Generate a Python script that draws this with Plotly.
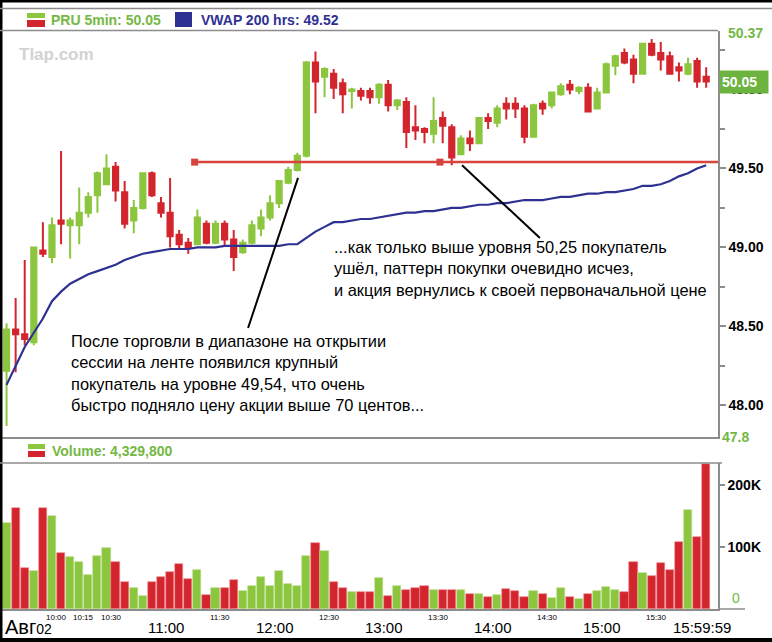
import plotly.graph_objects as go
import pandas as pd

# ---------------- data ----------------
session_day = "2010-08-02"
session_open = "09:30"
bar_minutes = 5
ticker = "PRU"
total_volume = 4329800

opens = [48.22, 48.48, 48.45, 48.40, 48.98, 48.94, 49.17, 49.14, 49.14, 49.22,
         49.33, 49.40, 49.51, 49.35, 49.17, 49.25, 49.47, 49.28, 49.22, 49.08,
         49.03, 49.02, 49.15, 49.03, 49.15, 49.05, 48.97, 49.03, 49.12, 49.19,
         49.28, 49.41, 49.49, 49.58, 50.17, 50.08, 50.10, 50.04, 49.99, 49.99,
         49.99, 49.95, 50.03, 49.90, 49.92, 49.76, 49.75, 49.72, 49.82, 49.76,
         49.59, 49.69, 49.66, 49.82, 49.79, 49.91, 49.91, 49.88, 49.70, 49.91,
         49.90, 49.97, 50.03, 49.99, 50.01, 49.88, 49.98, 50.15, 50.23, 50.19,
         50.10, 50.29, 50.23, 50.21, 50.14, 50.10, 50.18, 50.08]
highs = [48.52, 48.68, 48.92, 49.00, 49.16, 49.19, 49.61, 49.19, 49.38, 49.35,
         49.48, 49.59, 49.54, 49.42, 49.30, 49.47, 49.48, 49.32, 49.44, 49.11,
         49.06, 49.24, 49.17, 49.17, 49.17, 49.11, 49.05, 49.17, 49.24, 49.33,
         49.42, 49.51, 49.60, 50.18, 50.24, 50.14, 50.13, 50.07, 50.01, 50.01,
         50.01, 50.04, 50.06, 49.94, 49.95, 49.90, 49.76, 49.95, 49.86, 49.78,
         49.71, 49.74, 49.82, 49.85, 49.90, 49.95, 49.95, 49.90, 49.91, 49.93,
         49.98, 50.04, 50.06, 50.02, 50.04, 50.01, 50.17, 50.22, 50.26, 50.22,
         50.29, 50.32, 50.30, 50.24, 50.17, 50.20, 50.20, 50.14]
lows = [47.87, 48.21, 48.38, 48.38, 48.94, 48.90, 49.02, 48.93, 49.02, 49.19,
        49.22, 49.40, 49.29, 49.12, 49.09, 49.24, 49.32, 49.19, 49.00, 48.99,
        48.96, 49.02, 49.02, 49.02, 49.01, 48.85, 48.96, 49.02, 49.07, 49.17,
        49.25, 49.40, 49.48, 49.57, 49.85, 49.95, 49.94, 49.85, 49.88, 49.93,
        49.91, 49.91, 49.86, 49.87, 49.63, 49.68, 49.66, 49.66, 49.66, 49.52,
        49.59, 49.61, 49.66, 49.75, 49.76, 49.81, 49.82, 49.66, 49.70, 49.84,
        49.88, 49.96, 49.97, 49.97, 49.86, 49.88, 49.98, 50.09, 50.16, 50.04,
        50.10, 50.21, 50.12, 50.10, 50.05, 50.09, 50.01, 50.01]
closes = [48.48, 48.45, 48.42, 49.00, 48.96, 49.14, 49.15, 49.17, 49.22, 49.32,
          49.47, 49.50, 49.36, 49.15, 49.25, 49.47, 49.33, 49.22, 49.07, 49.02,
          49.00, 49.19, 49.03, 49.15, 49.05, 48.94, 49.03, 49.14, 49.19, 49.28,
          49.42, 49.49, 49.58, 50.17, 50.05, 50.13, 50.01, 49.97, 50.00, 49.96,
          49.95, 50.03, 49.90, 49.93, 49.73, 49.74, 49.73, 49.80, 49.77, 49.57,
          49.69, 49.66, 49.82, 49.80, 49.88, 49.88, 49.88, 49.70, 49.90, 49.88,
          49.98, 50.02, 50.00, 50.01, 49.86, 49.98, 50.16, 50.21, 50.17, 50.10,
          50.29, 50.22, 50.19, 50.10, 50.12, 50.16, 50.05, 50.05]
volumes = [139000, 163000, 66000, 61000, 163000, 150000, 90000, 84000, 76000, 55000,
           85000, 98000, 76000, 44000, 34000, 21000, 44000, 52000, 60000, 73000,
           48000, 63000, 23000, 34000, 34000, 47000, 29000, 37000, 52000, 37000,
           61000, 40000, 37000, 85000, 106000, 94000, 44000, 34000, 27000, 27000,
           27000, 50000, 21000, 37000, 31000, 34000, 37000, 31000, 31000, 31000,
           31000, 24000, 24000, 19000, 23000, 32000, 29000, 19000, 29000, 24000,
           18000, 34000, 19000, 16000, 24000, 29000, 35000, 31000, 27000, 76000,
           58000, 53000, 74000, 63000, 108000, 160000, 116000, 234000]
vwap = [48.13, 48.25, 48.37, 48.46, 48.55, 48.66, 48.72, 48.77, 48.80, 48.83,
        48.85, 48.87, 48.89, 48.92, 48.94, 48.96, 48.97, 48.98, 48.99, 48.99,
        48.99, 49.00, 49.00, 49.00, 49.01, 49.01, 49.01, 49.01, 49.01, 49.01,
        49.01, 49.02, 49.02, 49.06, 49.10, 49.13, 49.16, 49.16, 49.17, 49.18,
        49.18, 49.19, 49.20, 49.21, 49.22, 49.22, 49.23, 49.23, 49.24, 49.25,
        49.25, 49.26, 49.27, 49.27, 49.28, 49.28, 49.29, 49.30, 49.30, 49.30,
        49.31, 49.32, 49.32, 49.33, 49.34, 49.34, 49.35, 49.35, 49.36, 49.37,
        49.39, 49.39, 49.40, 49.42, 49.45, 49.47, 49.50, 49.52]

level_price = 49.54
level_marker_times = ["11:16", "13:31"]
level_end_time = "16:04"

price_ticks = [48.0, 48.5, 49.0, 49.5, 50.0]
price_tick_text = ["48.00", "48.50", "49.00", "49.50", "49.50"]
price_max, price_min = 50.37, 47.8
vol_ticks = [100000, 200000]
vol_tick_text = ["100K", "200K"]

hour_labels = ["11:00", "12:00", "13:00", "14:00", "15:00"]
close_label = "15:59:59"
minor_labels = ["10:00", "10:15", "10:30", "11:30", "12:30", "13:30", "14:30", "15:30"]

note_1 = ("После торговли в диапазоне на открытии<br>сессии на ленте появился крупный<br>"
          "покупатель на уровне 49,54, что очень<br>быстро подняло цену акции выше 70 центов...")
note_2 = ("...как только выше уровня 50,25 покупатель<br>ушёл, паттерн покупки очевидно исчез,<br>"
          "и акция вернулись к своей первоначальной цене")

# ---------------- layout helpers ----------------
W, H = 772, 642
ML, MR, MT, MB = 2, 54, 31, 33
PW, PH = W - ML - MR, H - MT - MB


def px(x):
    return (x - ML) / PW


def py(y):
    return (H - MB - y) / PH


def t(hhmm):
    return pd.Timestamp(f"{session_day} {hhmm}")


GREEN = "#8cc63f"
GREEN_TXT = "#74b843"
RED = "#d3252d"
NAVY = "#2e3192"
LEVEL = "#d8433d"
GRAY = "#8c8c8c"
FONT = "Liberation Sans, Arial, sans-serif"

bar_start = pd.date_range(t(session_open), periods=len(opens), freq=f"{bar_minutes}min")
bar_mid = bar_start + pd.Timedelta(minutes=bar_minutes / 2)
is_up = [c >= o for o, c in zip(opens, closes)]
vol_colors = [GREEN if u else RED for u in is_up]
vol_edges = ["#b5dc84" if u else "#f08a8d" for u in is_up]

fig = go.Figure()

fig.add_trace(go.Candlestick(
    x=bar_mid, open=opens, high=highs, low=lows, close=closes,
    increasing=dict(line=dict(color=GREEN, width=2), fillcolor=GREEN),
    decreasing=dict(line=dict(color=RED, width=2), fillcolor=RED),
    whiskerwidth=0, hoverinfo="skip", showlegend=False, xaxis="x", yaxis="y"))

fig.add_trace(go.Scatter(
    x=bar_mid, y=vwap, mode="lines", line=dict(color=NAVY, width=2.2),
    hoverinfo="skip", showlegend=False, xaxis="x", yaxis="y"))

level_x = [t(level_marker_times[0]), t(level_end_time)]
fig.add_trace(go.Scatter(
    x=level_x, y=[level_price] * 2, mode="lines", line=dict(color=LEVEL, width=2.5),
    hoverinfo="skip", showlegend=False, xaxis="x", yaxis="y", cliponaxis=True))
fig.add_trace(go.Scatter(
    x=[t(s) for s in level_marker_times], y=[level_price] * len(level_marker_times),
    mode="markers", marker=dict(symbol="square", size=7, color=LEVEL),
    hoverinfo="skip", showlegend=False, xaxis="x", yaxis="y"))

fig.add_trace(go.Bar(
    x=bar_mid, y=volumes, width=bar_minutes * 60000 * 0.9,
    marker=dict(color=vol_colors, line=dict(color=vol_edges, width=0.6)),
    hoverinfo="skip", showlegend=False, xaxis="x2", yaxis="y2"))

xrange = [t(session_open), t(level_end_time)]

fig.update_layout(
    width=W, height=H, margin=dict(l=ML, r=MR, t=MT, b=MB),
    paper_bgcolor="white", plot_bgcolor="white",
    font=dict(family=FONT, color="black"),
    boxgap=0.18,
    xaxis=dict(domain=[0, 1], anchor="y", range=xrange, rangeslider=dict(visible=False),
               showgrid=False, zeroline=False, showticklabels=False, ticks="",
               showline=True, linecolor=GRAY, linewidth=1.5),
    yaxis=dict(domain=[py(437), py(MT)], range=[price_min, price_max], side="right",
               anchor="x", showgrid=False, zeroline=False,
               tickmode="array", tickvals=price_ticks, ticktext=price_tick_text,
               ticks="outside", ticklen=6, tickwidth=1.5, tickcolor=GRAY,
               minor=dict(tickmode="linear", tick0=0, dtick=0.25, ticks="outside",
                          ticklen=5, tickwidth=1.5, tickcolor=GRAY),
               tickfont=dict(family=FONT, size=14, color="black", weight="bold"),
               showline=True, linecolor=GRAY, linewidth=1.5),
    xaxis2=dict(domain=[0, 1], anchor="y2", range=xrange, matches="x",
                showgrid=False, zeroline=False, showticklabels=False, ticks="",
                showline=True, linecolor=GRAY, linewidth=1.5),
    yaxis2=dict(domain=[0, py(463)], range=[0, 235000], side="right", anchor="x2",
                showgrid=False, zeroline=False, tickmode="array",
                tickvals=vol_ticks, ticktext=vol_tick_text,
                ticks="outside", ticklen=5, tickwidth=1.5, tickcolor=GRAY,
                tickfont=dict(family=FONT, size=14, color="black", weight="bold"),
                showline=True, linecolor=GRAY, linewidth=1.5),
    bargap=0,
)

shapes = []
# frame
shapes.append(dict(type="line", xref="paper", yref="paper", x0=px(1), x1=px(1), y0=py(0), y1=py(H),
                   line=dict(color="black", width=3)))
shapes.append(dict(type="line", xref="paper", yref="paper", x0=px(0), x1=px(W), y0=py(1), y1=py(1),
                   line=dict(color="black", width=3)))
shapes.append(dict(type="line", xref="paper", yref="paper", x0=px(0), x1=px(W), y0=py(H - 2), y1=py(H - 2),
                   line=dict(color="black", width=4)))
for (x0, x1, yy) in [(0, W, 8.5), (0, 718, 30.5), (0, 722, 463), (718, 745, 609)]:
    shapes.append(dict(type="line", xref="paper", yref="paper", x0=px(x0), x1=px(x1),
                       y0=py(yy), y1=py(yy), line=dict(color=GRAY, width=1.5)))
# legend swatches
shapes.append(dict(type="rect", xref="paper", yref="paper", x0=px(27), x1=px(45), y0=py(13), y1=py(18),
                   fillcolor=GREEN, line=dict(width=0)))
shapes.append(dict(type="rect", xref="paper", yref="paper", x0=px(27), x1=px(45), y0=py(20), y1=py(27),
                   fillcolor=RED, line=dict(width=0)))
shapes.append(dict(type="rect", xref="paper", yref="paper", x0=px(175), x1=px(192), y0=py(12), y1=py(27),
                   fillcolor=NAVY, line=dict(width=0)))
shapes.append(dict(type="rect", xref="paper", yref="paper", x0=px(28), x1=px(45), y0=py(444), y1=py(449),
                   fillcolor=GREEN, line=dict(width=0)))
shapes.append(dict(type="rect", xref="paper", yref="paper", x0=px(28), x1=px(45), y0=py(451), y1=py(457),
                   fillcolor=RED, line=dict(width=0)))
# pointer lines
shapes.append(dict(type="line", xref="x", yref="y", x0=t("11:45:24"), y0=48.49, x1=t("12:12:54"), y1=49.44,
                   line=dict(color="black", width=2)))
shapes.append(dict(type="line", xref="x", yref="y", x0=t("13:43:10"), y0=49.52, x1=t("14:26:00"), y1=49.06,
                   line=dict(color="black", width=2)))
fig.update_layout(shapes=shapes)

ann = []
ann.append(dict(xref="paper", yref="paper", x=px(49), y=py(20), xanchor="left", yanchor="middle",
                text=f"<b>{ticker} {bar_minutes}min: {closes[-1]:.2f}</b>", showarrow=False,
                font=dict(size=14, color=GREEN_TXT, family=FONT)))
ann.append(dict(xref="paper", yref="paper", x=px(199), y=py(20), xanchor="left", yanchor="middle",
                text=f"<b>VWAP 200 hrs: {vwap[-1]:.2f}</b>", showarrow=False,
                font=dict(size=14, color=NAVY, family=FONT)))
ann.append(dict(xref="paper", yref="paper", x=px(50), y=py(451), xanchor="left", yanchor="middle",
                text=f"<b>Volume: {total_volume:,}</b>", showarrow=False,
                font=dict(size=14, color=GREEN_TXT, family=FONT)))
ann.append(dict(xref="paper", yref="paper", x=px(17), y=py(55), xanchor="left", yanchor="middle",
                text="<b>Tlap.com</b>", showarrow=False,
                font=dict(size=17, color="#d2d2d2", family=FONT)))
# right-axis extra labels
ann.append(dict(xref="paper", yref="y", x=px(726), y=price_max, xanchor="left", yanchor="middle",
                text=f"<b>{price_max:.2f}</b>", showarrow=False, yshift=-2,
                font=dict(size=14, color=GREEN_TXT, family=FONT)))
ann.append(dict(xref="paper", yref="y", x=px(720), y=price_min, xanchor="left", yanchor="middle",
                text=f"<b>{price_min:.1f}</b>", showarrow=False,
                font=dict(size=14, color=GREEN_TXT, family=FONT)))
ann.append(dict(xref="paper", yref="y", x=px(719), y=closes[-1], xanchor="left", yanchor="middle",
                text=f"<b>{closes[-1]:.2f}</b>", showarrow=False, bgcolor="#6db33f",
                width=44, height=18, align="left", borderpad=2,
                font=dict(size=14, color="white", family=FONT)))
ann.append(dict(xref="paper", yref="paper", x=px(730), y=py(598), xanchor="left", yanchor="middle",
                text="0", showarrow=False, font=dict(size=14, color=GREEN_TXT, family=FONT)))
# time axis labels
for lab in hour_labels:
    ann.append(dict(xref="x2", yref="paper", x=t(lab), y=py(627), xanchor="center", yanchor="middle",
                    text=lab, showarrow=False, font=dict(size=15, color="black", family=FONT)))
ann.append(dict(xref="x2", yref="paper", x=t(close_label), y=py(627), xanchor="center", yanchor="middle",
                text=close_label, showarrow=False, xshift=-9,
                font=dict(size=15, color="black", family=FONT)))
for lab in minor_labels:
    ann.append(dict(xref="x2", yref="paper", x=t(lab), y=py(617), xanchor="center", yanchor="middle",
                    text=lab, showarrow=False, font=dict(size=8, color="black", family=FONT)))
ann.append(dict(xref="paper", yref="paper", x=px(3), y=py(627), xanchor="left", yanchor="middle",
                text="Авг<span style='font-size:14px'>02</span>", showarrow=False,
                font=dict(size=20, color="black", family=FONT)))
# notes
ann.append(dict(xref="paper", yref="paper", x=px(69), y=py(330), xanchor="left", yanchor="top",
                text=note_1, showarrow=False, align="left",
                font=dict(size=16.4, color="black", family=FONT)))
ann.append(dict(xref="paper", yref="paper", x=px(332), y=py(236), xanchor="left", yanchor="top",
                text=note_2, showarrow=False, align="left",
                font=dict(size=16.4, color="black", family=FONT)))
fig.update_layout(annotations=ann)

fig.write_html("out.html")
